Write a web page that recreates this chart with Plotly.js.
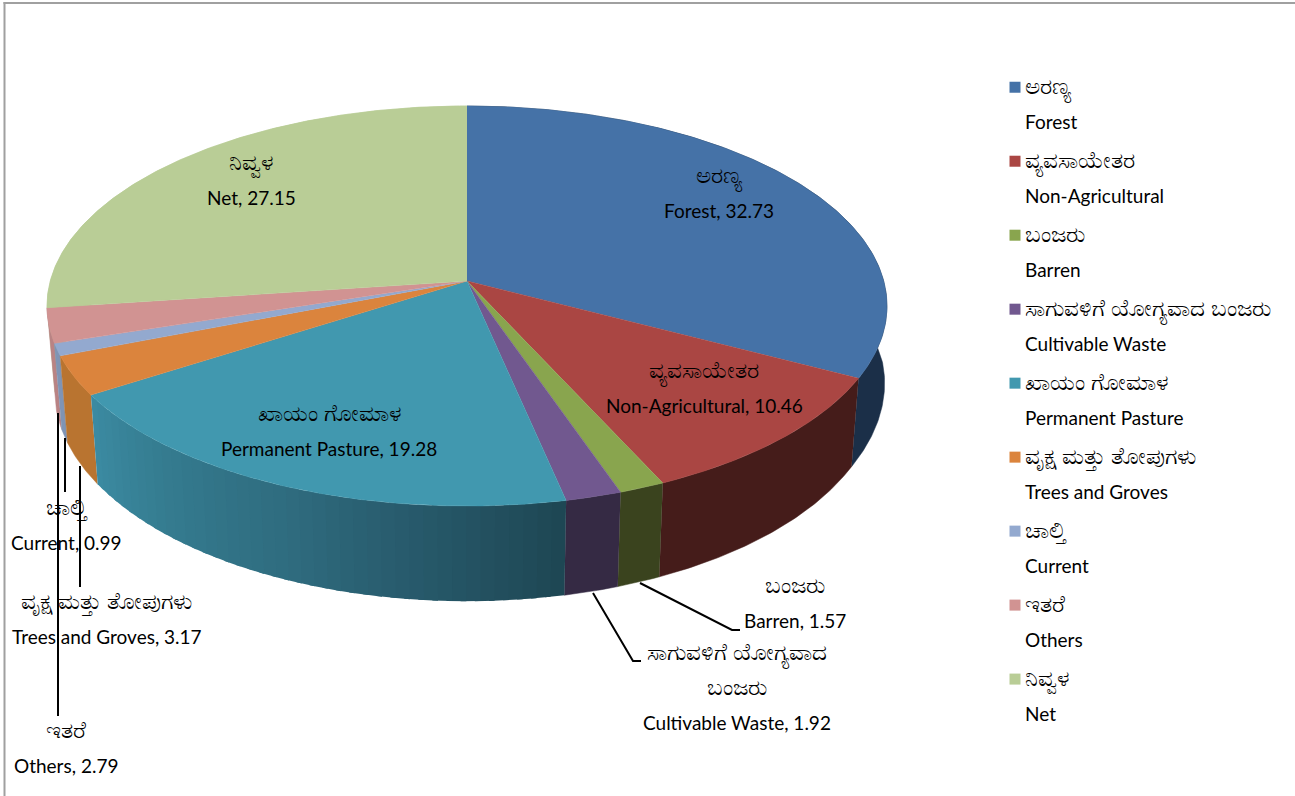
<!DOCTYPE html>
<html><head><meta charset="utf-8">
<script src="https://cdn.plot.ly/plotly-3.0.1.min.js"></script>
<style>html,body{margin:0;padding:0;background:#fff}#c{width:1295px;height:796px}</style>
</head><body><div id="c"></div>
<script>
// ---- data ----
const kannada = ["ಅರಣ್ಯ","ವ್ಯವಸಾಯೇತರ","ಬಂಜರು","ಸಾಗುವಳಿಗೆ ಯೋಗ್ಯವಾದ ಬಂಜರು","ಖಾಯಂ ಗೋಮಾಳ","ವೃಕ್ಷ ಮತ್ತು ತೋಪುಗಳು","ಚಾಲ್ತಿ","ಇತರೆ","ನಿವ್ವಳ"];
const english = ["Forest","Non-Agricultural","Barren","Cultivable Waste","Permanent Pasture","Trees and Groves","Current","Others","Net"];
const values = [32.73,10.46,1.57,1.92,19.28,3.17,0.99,2.79,27.15];
const topColors = ["#4572a7","#aa4643","#89a54e","#71588f","#4198af","#db843d","#93a9cf","#d19392","#b9cd96"];
const wallColors = ["#1b2f48","#451c1a","#3a431e","#352a44",null,"#b97430","#7f94b5","#b98384","#b9cd96"];
const ppWallStops = ["#1e4754","#27596a","#2f6c7f","#347a8e","#3b8aa1"];
// label centres
const labelX = [719,704,795,737,329,107,66,66,251];
const labelY = [191,386,601,685,429,617,523,746,178];
const labelKn = kannada.slice();
labelKn[3] = "ಸಾಗುವಳಿಗೆ ಯೋಗ್ಯವಾದ<br>ಬಂಜರು";
const leaders = [
 {x:[58,58],y:[413,716]},{x:[65,65],y:[438,492]},{x:[80,80],y:[466,587]},
 {x:[640,732,740],y:[583,630,630]},{x:[593,633,641],y:[593,661,661]}
];
// ---- projection of the pie ----
const CX=467,CY=281,A=416.7,B=196.9,P=0.125,S=0.982,SY=1.054,D=83;
const total=values.reduce((a,b)=>a+b,0);
function topPt(a){const X=Math.sin(a),Z=Math.cos(a),w=1+P*Z;return [CX+A*X/w,CY-B*Z/w];}
function lowPt(a){
  const p=topPt(a),Z=Math.cos(a),X=Math.sin(a);
  const bump=(X>0)?0.016*Math.min(1,Math.max(0,1+Z/0.47)):0;
  return [CX+(S+bump)*(p[0]-CX),CY+D+SY*(p[1]-CY)];
}
function arc(f,a0,a1){const n=Math.max(2,Math.ceil((a1-a0)/0.01));const o=[];for(let i=0;i<=n;i++)o.push(f(a0+(a1-a0)*i/n));return o;}
function poly(pts,color,lw){return {type:"scatter",mode:"lines",x:pts.map(p=>p[0]),y:pts.map(p=>p[1]),fill:"toself",fillcolor:color,line:{color:color,width:lw},hoverinfo:"skip",showlegend:false};}
function ramp(stops,t){
  const h=c=>[1,3,5].map(i=>parseInt(c.substr(i,2),16));
  const f=t*(stops.length-1),i=Math.min(stops.length-2,Math.floor(f)),u=f-i,a=h(stops[i]),b=h(stops[i+1]);
  return "rgb("+a.map((v,j)=>Math.round(v+(b[j]-v)*u)).join(",")+")";
}
const angles=[];let cum=0;values.forEach(v=>{angles.push([cum/total*2*Math.PI,(cum+v)/total*2*Math.PI]);cum+=v;});
const traces=[];
// walls: the far slices first, then nearer ones
[8,0,1,2,3,7,6,5].forEach(i=>{
  const [a0,a1]=angles[i];
  traces.push(poly(arc(topPt,a0,a1).concat(arc(lowPt,a0,a1).reverse()),wallColors[i],0.5));
});
(function(){
  const [a0,a1]=angles[4],N=40;
  for(let k=0;k<N;k++){
    const b0=a0+(a1-a0)*k/N,b1=a0+(a1-a0)*(k+1.4)/N;
    const c=ramp(ppWallStops,k/(N-1));
    traces.push(poly(arc(topPt,b0,Math.min(b1,a1)).concat(arc(lowPt,b0,Math.min(b1,a1)).reverse()),c,0));
  }
})();
// top surface
values.forEach((v,i)=>{
  const [a0,a1]=angles[i];
  traces.push(poly([[CX,CY]].concat(arc(topPt,a0,a1)),topColors[i],0.5));
});
// leader lines
leaders.forEach(l=>traces.push({type:"scatter",mode:"lines",x:l.x,y:l.y,line:{color:"#000",width:2},hoverinfo:"skip",showlegend:false}));
// legend
const spK=t=>'<span style="font-size:23px">'+t+'</span>';
const spE=t=>'<span style="font-size:19px">'+t+'</span>';
kannada.forEach((k,i)=>traces.push({type:"scatter",mode:"markers",x:[null],y:[null],name:spK(k)+"<br>"+spE(english[i]),marker:{symbol:"square",size:11,color:topColors[i]},hoverinfo:"skip"}));
const annotations=values.map((v,i)=>({
  x:labelX[i],y:labelY[i],xref:"x",yref:"y",showarrow:false,align:"center",xanchor:"center",yanchor:"middle",
  text:labelKn[i].split("<br>").map(spK).join("<br>")+"<br>"+spE(english[i]+", "+v),
  font:{family:"Lato, 'Noto Sans', sans-serif",size:27,color:"#000"}
}));
const layout={
  width:1295,height:796,margin:{l:0,r:0,t:0,b:0},paper_bgcolor:"#fff",plot_bgcolor:"#fff",
  xaxis:{range:[0,1295],visible:false,fixedrange:true},
  yaxis:{range:[796,0],visible:false,fixedrange:true},
  annotations:annotations,
  shapes:[
   {type:"line",xref:"x",yref:"y",x0:3.5,x1:1295,y0:3,y1:3,line:{color:"#a0a0a0",width:2}},
   {type:"line",xref:"x",yref:"y",x0:4.5,x1:4.5,y0:2,y1:796,line:{color:"#a0a0a0",width:2}}
  ],
  legend:{x:1000/1295,y:1-59/796,xanchor:"left",yanchor:"top",valign:"top",indentation:-15,itemwidth:30,tracegroupgap:0,
    font:{family:"Lato, 'Noto Sans', sans-serif",size:27.3,color:"#000"},bgcolor:"rgba(0,0,0,0)"},
  showlegend:true
};
Plotly.newPlot("c",traces,layout,{staticPlot:true,displayModeBar:false}).then(()=>{
  document.querySelectorAll("#c .legend .legendsymbols").forEach(g=>g.setAttribute("transform","translate(10,4)"));
});
</script></body></html>
